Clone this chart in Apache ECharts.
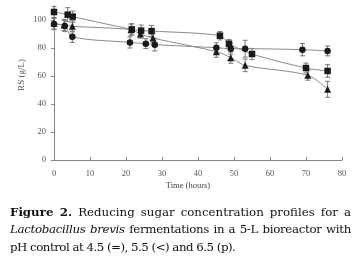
<!DOCTYPE html>
<html>
<head>
<meta charset="utf-8">
<script src="https://cdn.jsdelivr.net/npm/echarts@6/dist/echarts.min.js"></script>
<style>
html, body { margin: 0; padding: 0; background: #fff; }
#chart { width: 356px; height: 263px; position: absolute; left: 0; top: 0; }
.cap { position: absolute; left: 10px; width: 341px; font-family: "DejaVu Serif", serif; font-size: 11.8px; line-height: 14px; color: #111; white-space: nowrap; }
.just { text-align: justify; text-align-last: justify; }
</style>
</head>
<body>
<div id="chart"></div>
<div class="cap just" style="top:205px"><b>Figure 2.</b> Reducing sugar concentration profiles for a</div>
<div class="cap just" style="top:222px; letter-spacing:-0.3px"><i>Lactobacillus brevis</i> fermentations in a 5-L bioreactor with</div>
<div class="cap" style="top:240px; letter-spacing:-0.5px">pH control at 4.5 (=), 5.5 (&lt;) and 6.5 (p).</div>
<script>
// pH 4.5 (squares)
var timeA = [0, 3.8, 5.2, 21.6, 24.2, 27.1, 46.1, 48.6, 55, 70, 76];
var rsA   = [105.7, 103.8, 102.4, 93.3, 92.4, 92.1, 88.8, 83.1, 75.7, 65.7, 63.6];
var errA  = [4, 5, 4, 4, 4, 4, 3, 3, 4, 3.5, 4.5];
// pH 5.5 (circles)
var timeB = [0, 3, 5.1, 21.1, 25.5, 28, 45.1, 49.1, 53.1, 69, 76];
var rsB   = [97.1, 95.7, 88, 84, 83.1, 82.4, 80.2, 79.5, 79.5, 78.8, 77.9];
var errB  = [4, 4, 4, 4, 3.5, 4.5, 3.5, 4, 6, 4.4, 3.5];
// pH 6.5 (triangles)
var timeC = [0, 2.8, 5.1, 21.4, 24, 27.5, 45.1, 49.1, 53.1, 70.5, 76];
var rsC   = [97.6, 96.4, 95.5, 93.1, 90, 87.1, 77.4, 73.1, 67.6, 60.5, 50.5];
var errC  = [4, 4, 4, 4, 3, 3, 4, 4, 4.5, 3.5, 5.7];

var xTicks = [0, 10, 20, 30, 40, 50, 60, 70, 80];

var font = '"Liberation Serif", serif';
var chart = echarts.init(document.getElementById('chart'));

function pairs(t, v) {
    return t.map(function(x, i) { return [x, v[i]]; });
}
function bars(t, v, e) {
    return t.map(function(x, i) { return [x, v[i] - e[i], v[i] + e[i]]; });
}
function errSeries(data) {
    return {
        type: 'custom',
        z: 1,
        silent: true,
        data: data,
        renderItem: function(params, api) {
            var lo = api.coord([api.value(0), api.value(1)]);
            var hi = api.coord([api.value(0), api.value(2)]);
            var w = 2.5;
            var st = { stroke: '#777', lineWidth: 1 };
            return {
                type: 'group',
                children: [
                    { type: 'line', shape: { x1: lo[0], y1: lo[1], x2: hi[0], y2: hi[1] }, style: st },
                    { type: 'line', shape: { x1: lo[0] - w, y1: lo[1], x2: lo[0] + w, y2: lo[1] }, style: st },
                    { type: 'line', shape: { x1: hi[0] - w, y1: hi[1], x2: hi[0] + w, y2: hi[1] }, style: st }
                ]
            };
        }
    };
}
function lineSeries(name, data, symbol, size) {
    return {
        name: name,
        type: 'line',
        z: 3,
        smooth: 0.3,
        data: data,
        symbol: symbol,
        symbolSize: size,
        itemStyle: { color: '#1a1a1a' },
        lineStyle: { color: '#8a8a8a', width: 1 }
    };
}

var option = {
    backgroundColor: '#fff',
    animation: false,
    grid: { left: 54, right: 14, top: 6, bottom: 103 },
    xAxis: {
        type: 'value',
        min: 0, max: 80, interval: 10,
        axisLine: { lineStyle: { color: '#888' } },
        axisTick: { inside: true, length: 3, lineStyle: { color: '#888' } },
        axisLabel: { color: '#555', fontFamily: font, fontSize: 8.5, margin: 9,
            customValues: xTicks },
        splitLine: { show: false }
    },
    yAxis: {
        type: 'value',
        min: 0, max: 110, interval: 20,
        axisLine: { show: true, lineStyle: { color: '#888' } },
        axisTick: { show: true, length: 3, lineStyle: { color: '#888' } },
        axisLabel: { color: '#555', fontFamily: font, fontSize: 8.5, margin: 8,
            showMaxLabel: false },
        splitLine: { show: false }
    },
    graphic: [
        { type: 'text', x: 22, y: 75, rotation: Math.PI / 2,
          style: { text: 'RS (g/L)', fill: '#555', font: '9px ' + font, align: 'center', verticalAlign: 'middle' } },
        { type: 'text', x: 188, y: 186,
          style: { text: 'Time (hours)', fill: '#444', font: '8.5px ' + font, align: 'center', verticalAlign: 'middle' } }
    ],
    series: [
        errSeries(bars(timeA, rsA, errA)),
        errSeries(bars(timeB, rsB, errB)),
        errSeries(bars(timeC, rsC, errC)),
        lineSeries('pH 4.5', pairs(timeA, rsA), 'rect', 6.5),
        lineSeries('pH 5.5', pairs(timeB, rsB), 'circle', 6.5),
        lineSeries('pH 6.5', pairs(timeC, rsC), 'triangle', 7)
    ]
};
chart.setOption(option);
</script>
</body>
</html>
